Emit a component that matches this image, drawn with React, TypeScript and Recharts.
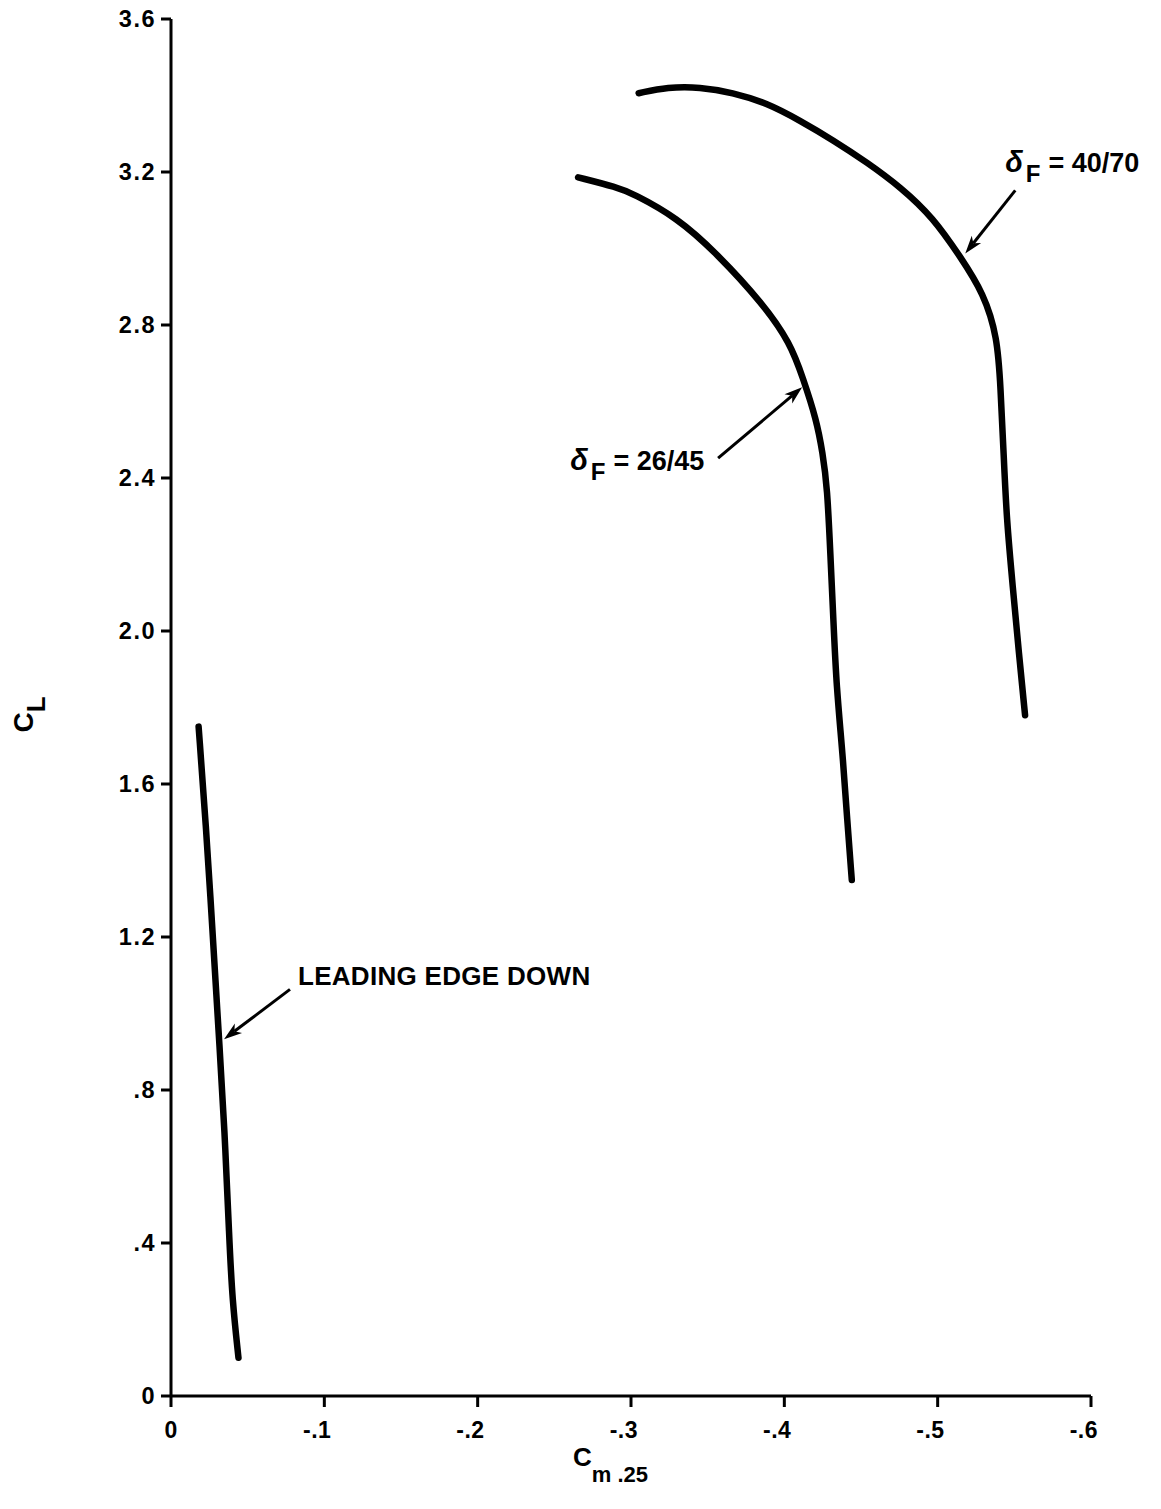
import React from 'react';
import { LineChart, Line, XAxis, YAxis, ReferenceLine, ReferenceDot } from 'recharts';

const FONT = '"Liberation Sans", Arial, Helvetica, sans-serif';

// Tick values
const xTicks = [0, -0.1, -0.2, -0.3, -0.4, -0.5, -0.6];
const yTicks = [0, 0.4, 0.8, 1.2, 1.6, 2.0, 2.4, 2.8, 3.2, 3.6];

// Leading edge down
const leCm = [-0.018, -0.023, -0.027, -0.031, -0.035, -0.038, -0.040, -0.044];
const leCl = [1.75, 1.48, 1.22, 0.955, 0.695, 0.41, 0.25, 0.10];

// delta F = 26/45
const f26Cm = [-0.2655, -0.291, -0.301, -0.330, -0.356, -0.386, -0.404, -0.412, -0.421, -0.425, -0.428, -0.430, -0.432, -0.434, -0.438, -0.441, -0.444];
const f26Cl = [3.186, 3.160, 3.144, 3.081, 2.987, 2.856, 2.752, 2.663, 2.552, 2.465, 2.376, 2.203, 2.028, 1.853, 1.681, 1.506, 1.349];

// delta F = 40/70
const f40Cm = [-0.305, -0.324, -0.345, -0.366, -0.389, -0.410, -0.432, -0.454, -0.476, -0.497, -0.515, -0.530, -0.539, -0.541, -0.543, -0.545, -0.549, -0.553, -0.557];
const f40Cl = [3.406, 3.422, 3.422, 3.408, 3.380, 3.335, 3.283, 3.225, 3.160, 3.081, 2.977, 2.883, 2.768, 2.637, 2.465, 2.290, 2.115, 1.941, 1.780];

// Annotation anchors (data coordinates)
const arrow26 = { from: { x: -0.3568, y: 2.452 }, to: { x: -0.4116, y: 2.637 } };
const arrow40 = { from: { x: -0.5506, y: 3.152 }, to: { x: -0.518, y: 2.987 } };
const arrowLE = { from: { x: -0.0776, y: 1.063 }, to: { x: -0.0346, y: 0.933 } };
const label26 = { x: -0.2603, y: 2.42, value: '26/45' };
const label40 = { x: -0.544, y: 3.199, value: '40/70' };
const labelLE = { x: -0.0828, y: 1.074, text: 'LEADING EDGE DOWN' };

const zip = (xs: number[], ys: number[]) => xs.map((x, i) => ({ x, y: ys[i] }));
const leData = zip(leCm, leCl);
const f26Data = zip(f26Cm, f26Cl);
const f40Data = zip(f40Cm, f40Cl);

const fmtY = (v: number) => {
  if (v === 0) return '0';
  const s = v.toFixed(1);
  return s.startsWith('0') ? s.slice(1) : s;
};

const XTick = (props: any) => {
  const { x, y, payload } = props;
  const v = payload.value as number;
  if (Math.abs(v) < 1e-9) {
    return (
      <text x={x} y={y} dy="0.71em" textAnchor="middle" fontSize={23} fontWeight={700} fontFamily={FONT} fill="#000">0</text>
    );
  }
  const digit = String(Math.round(Math.abs(v) * 10));
  return (
    <text x={x + 7} y={y} dy="0.71em" textAnchor="end" fontSize={23} fontWeight={700} fontFamily={FONT} fill="#000" letterSpacing={0.5}>
      {'-.' + digit}
    </text>
  );
};

const YTick = (props: any) => {
  const { x, y, payload } = props;
  return (
    <text x={x} y={y} dy="0.36em" textAnchor="end" fontSize={23.5} fontWeight={700} fontFamily={FONT} fill="#000" letterSpacing={1.5}>
      {fmtY(payload.value)}
    </text>
  );
};

const ArrowShape = (props: any) => {
  const { x1, y1, x2, y2 } = props;
  const ang = Math.atan2(y2 - y1, x2 - x1);
  const len = 18;
  const half = 6;
  const bx = x2 - len * Math.cos(ang);
  const by = y2 - len * Math.sin(ang);
  const px = -Math.sin(ang) * half;
  const py = Math.cos(ang) * half;
  const nx = x2 - (len - 5) * Math.cos(ang);
  const ny = y2 - (len - 5) * Math.sin(ang);
  return (
    <g>
      <line x1={x1} y1={y1} x2={nx} y2={ny} stroke="#000" strokeWidth={3} />
      <polygon points={`${x2},${y2} ${bx + px},${by + py} ${nx},${ny} ${bx - px},${by - py}`} fill="#000" />
    </g>
  );
};

const deltaLabel = (value: string) => (props: any) => {
  const { cx, cy } = props;
  return (
    <text x={cx} y={cy} fontSize={27} fontWeight={700} fontFamily={FONT} fill="#000">
      <tspan fontStyle="italic" fontSize={29}>δ</tspan>
      <tspan fontSize={24} dx={3} dy={10}>F</tspan>
      <tspan dx={8} dy={-10}>{'= ' + value}</tspan>
    </text>
  );
};

const plainLabel = (text: string) => (props: any) => {
  const { cx, cy } = props;
  return (
    <text x={cx} y={cy} fontSize={26} fontWeight={700} fontFamily={FONT} fill="#000" letterSpacing={0.3}>
      {text}
    </text>
  );
};

const XLabel = (props: any) => {
  const vb = props.viewBox || {};
  const x = vb.x + vb.width / 2 - 58;
  const y = vb.y + 70;
  return (
    <text x={x} y={y} fontSize={26} fontWeight={700} fontFamily={FONT} fill="#000">
      C<tspan fontSize={22} dy={16}>m .25</tspan>
    </text>
  );
};

const YLabel = (props: any) => {
  const vb = props.viewBox || {};
  const x = vb.x - 78;
  const y = vb.y + vb.height / 2 + 25;
  return (
    <text x={x} y={y} transform={`rotate(-90 ${x} ${y})`} fontSize={28} fontWeight={700} fontFamily={FONT} fill="#000">
      C<tspan fontSize={26} dy={12}>L</tspan>
    </text>
  );
};

export default function App() {
  return (
    <div style={{ position: 'absolute', left: 0, top: 0, background: '#fff' }}>
      <LineChart width={1161} height={1509} margin={{ top: 19, right: 70, bottom: 53, left: 111 }}>
        <XAxis
          type="number"
          dataKey="x"
          domain={[-0.6, 0]}
          ticks={xTicks}
          reversed
          allowDataOverflow
          height={60}
          axisLine={{ stroke: '#000', strokeWidth: 3 }}
          tickLine={{ stroke: '#000', strokeWidth: 3 }}
          tickSize={11}
          tickMargin={15}
          tick={<XTick />}
          label={<XLabel />}
        />
        <YAxis
          type="number"
          dataKey="y"
          domain={[0, 3.6]}
          ticks={yTicks}
          allowDataOverflow
          width={60}
          axisLine={{ stroke: '#000', strokeWidth: 3 }}
          tickLine={{ stroke: '#000', strokeWidth: 3 }}
          tickSize={10}
          tickMargin={5}
          tick={<YTick />}
          label={<YLabel />}
        />
        <Line data={leData} dataKey="y" type="basis" stroke="#000" strokeWidth={6.5} strokeLinecap="round" dot={false} activeDot={false} isAnimationActive={false} />
        <Line data={f26Data} dataKey="y" type="basis" stroke="#000" strokeWidth={6.5} strokeLinecap="round" dot={false} activeDot={false} isAnimationActive={false} />
        <Line data={f40Data} dataKey="y" type="basis" stroke="#000" strokeWidth={6.5} strokeLinecap="round" dot={false} activeDot={false} isAnimationActive={false} />
        <ReferenceLine segment={[arrow26.from, arrow26.to]} ifOverflow="visible" shape={ArrowShape} />
        <ReferenceLine segment={[arrow40.from, arrow40.to]} ifOverflow="visible" shape={ArrowShape} />
        <ReferenceLine segment={[arrowLE.from, arrowLE.to]} ifOverflow="visible" shape={ArrowShape} />
        <ReferenceDot x={label26.x} y={label26.y} ifOverflow="visible" shape={deltaLabel(label26.value)} />
        <ReferenceDot x={label40.x} y={label40.y} ifOverflow="visible" shape={deltaLabel(label40.value)} />
        <ReferenceDot x={labelLE.x} y={labelLE.y} ifOverflow="visible" shape={plainLabel(labelLE.text)} />
      </LineChart>
    </div>
  );
}
